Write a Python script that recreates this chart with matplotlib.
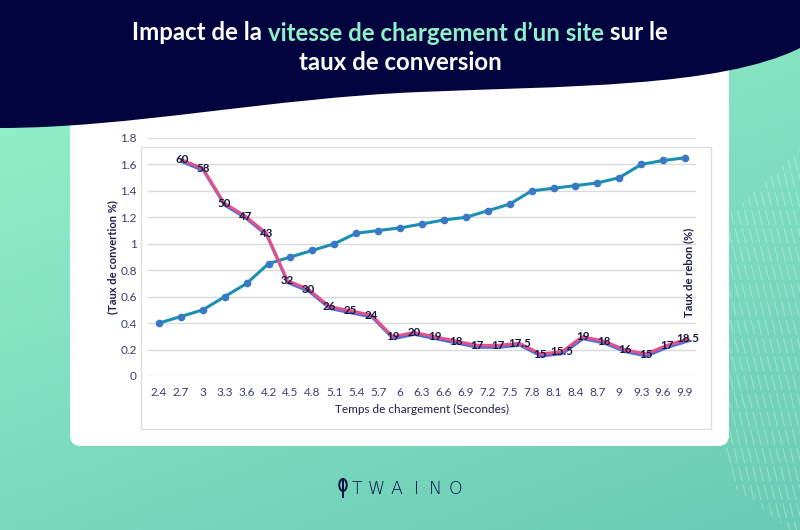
import numpy as np
import matplotlib
matplotlib.use("Agg")
import matplotlib.pyplot as plt
from matplotlib.patches import FancyBboxPatch, Rectangle, PathPatch, Ellipse, Polygon
from matplotlib.path import Path
from matplotlib.colors import LinearSegmentedColormap
import matplotlib.patheffects as pe

# data
temps = ["2.4", "2.7", "3", "3.3", "3.6", "4.2", "4.5", "4.8", "5.1", "5.4", "5.7", "6", "6.3",
         "6.6", "6.9", "7.2", "7.5", "7.8", "8.1", "8.4", "8.7", "9", "9.3", "9.6", "9.9"]
conversion = [0.4, 0.45, 0.5, 0.6, 0.7, 0.85, 0.9, 0.95, 1.0, 1.08, 1.1, 1.12, 1.15,
              1.18, 1.2, 1.25, 1.3, 1.4, 1.42, 1.44, 1.46, 1.5, 1.6, 1.63, 1.65]
rebond = [60, 58, 50, 47, 43, 32, 30, 26, 25, 24, 19, 20, 19, 18, 17, 17, 17.5,
          15, 15.5, 19, 18, 16, 15, 17, 18.5]
yticks = [0, 0.2, 0.4, 0.6, 0.8, 1, 1.2, 1.4, 1.6, 1.8]

NAVY = "#03043f"
INK = "#1c1f4d"
W, H = 800, 530

fig = plt.figure(figsize=(8, 5.3), dpi=100)

# background in pixel coordinates
bg = fig.add_axes([0, 0, 1, 1])
bg.set_xlim(0, W)
bg.set_ylim(H, 0)
bg.axis("off")

gx, gy = np.meshgrid(np.linspace(0, 1, 200), np.linspace(0, 1, 140))
grad = 0.35 * gx + 0.65 * gy
cmap = LinearSegmentedColormap.from_list("bg", ["#97f4cb", "#6acbb5"])
bg.imshow(grad, extent=(0, W, H, 0), cmap=cmap, aspect="auto", zorder=0)

# faint diagonal stripes on the right
clip_patch = Polygon([(729, 215), (800, 150), (800, 530), (790, 530), (680, 446), (729, 446)],
                     closed=True, transform=bg.transData, facecolor="none", edgecolor="none")
bg.add_patch(clip_patch)
for x0 in range(640, 820, 7):
    ln, = bg.plot([x0, x0 + 110], [100, 540], color="white", lw=0.8, alpha=0.3,
                  ls=(0, (14, 3)), zorder=1)
    ln.set_clip_path(clip_patch)

# white card
card = FancyBboxPatch((70, 40), 659, 406, boxstyle="round,pad=0,rounding_size=11",
                      facecolor="white", edgecolor="none", zorder=2)
bg.add_patch(card)

# header with wavy bottom
verts = [(0, 0), (800, 0), (800, 48),
         (720, 88), (560, 86), (420, 92),
         (270, 98), (130, 128), (0, 128),
         (0, 0)]
codes = [Path.MOVETO, Path.LINETO, Path.LINETO,
         Path.CURVE4, Path.CURVE4, Path.CURVE4,
         Path.CURVE4, Path.CURVE4, Path.CURVE4,
         Path.CLOSEPOLY]
bg.add_patch(PathPatch(Path(verts, codes), facecolor=NAVY, edgecolor="none", zorder=3))

# title
tfont = dict(family="Lato", weight="bold", fontsize=17.3, va="center", zorder=4)
parts = [("Impact de la ", "white"), ("vitesse de chargement d\u2019un site", "#8ff0c6"),
         (" sur le", "white")]
texts = [bg.text(0, 33, s, color=c, ha="left", **tfont) for s, c in parts]
fig.canvas.draw()
r = fig.canvas.get_renderer()
widths = [t.get_window_extent(r).width for t in texts]
x = 400 - sum(widths) / 2
for t, w in zip(texts, widths):
    t.set_x(x)
    x += w
bg.text(400, 62, "taux de conversion", color="white", ha="center", **tfont)

# plot area border
bg.add_patch(Rectangle((141, 147), 570, 282, facecolor="none", edgecolor="#dedede",
                       lw=1, zorder=2.5))

# main chart
pos = [148 / W, (H - 376) / H, 548 / W, 238 / H]
ax = fig.add_axes(pos)
ax.set_facecolor("none")
xi = np.arange(len(temps))
ax.set_xlim(-0.5, len(temps) - 0.5)
ax.set_ylim(0, 1.8)
ax.set_yticks(yticks)
ax.set_yticklabels([f"{v:g}" for v in yticks])
ax.set_xticks(xi)
ax.set_xticklabels(temps)
ax.grid(axis="y", color="#dadada", lw=1)
ax.set_axisbelow(True)
for s in ax.spines.values():
    s.set_visible(False)
ax.tick_params(length=0, labelsize=8.5, labelcolor="#3b3f6b", pad=8)
for lab in ax.get_xticklabels() + ax.get_yticklabels():
    lab.set_family("Lato")
ax.plot(xi, conversion, color="#1a8fb1", lw=2.2, marker="o", ms=4.5,
        mfc="#3a78c6", mec="#3a78c6", zorder=3)

# bounce rate on its own overlay scale
ax2 = fig.add_axes(pos)
ax2.set_facecolor("none")
ax2.axis("off")
ax2.set_xlim(-1.61, 24.38)
ax2.set_ylim(9.9, 65.1)
bi = np.arange(len(rebond))
ax2.plot(bi, rebond, color="#e4508a", lw=2.2, zorder=3,
         path_effects=[pe.SimpleLineShadow(offset=(0.4, -1.4), shadow_color="#4c6fd8",
                                           alpha=1, rho=1), pe.Normal()])
for i, v in zip(bi, rebond):
    ax2.text(i, v, f"{v:g}", ha="center", va="center", fontsize=8.3, color="#15183f",
             family="Lato", weight="bold", zorder=4)

# axis titles
bg.text(113, 257, "(Taux de convertion %)", rotation=90, ha="center", va="center",
        fontsize=8, color=INK, family="Lato", weight="bold", zorder=5)
bg.text(422, 409, "Temps de chargement (Secondes)", ha="center", va="center",
        fontsize=8.5, color=INK, family="Lato", zorder=5)
fig.text(689 / W, 1 - 272 / H, "Taux de rebon (%)", rotation=90, ha="center", va="center",
         fontsize=8, color=INK, family="Lato", weight="bold")

# logo
bg.add_patch(Ellipse((343, 485), 7.5, 12, facecolor="none", edgecolor="#0b0d45", lw=1.4,
                     zorder=5))
bg.plot([343, 343], [479, 497], color="#0b0d45", lw=1.4, zorder=5)
for k, ch in enumerate("TWAINO"):
    bg.text(357 + k * 19.7, 489, ch, ha="center", va="center", fontsize=12.5,
            color="#0b0d45", family="DejaVu Sans", weight="light", zorder=5)

fig.savefig("out.png", dpi=100)
